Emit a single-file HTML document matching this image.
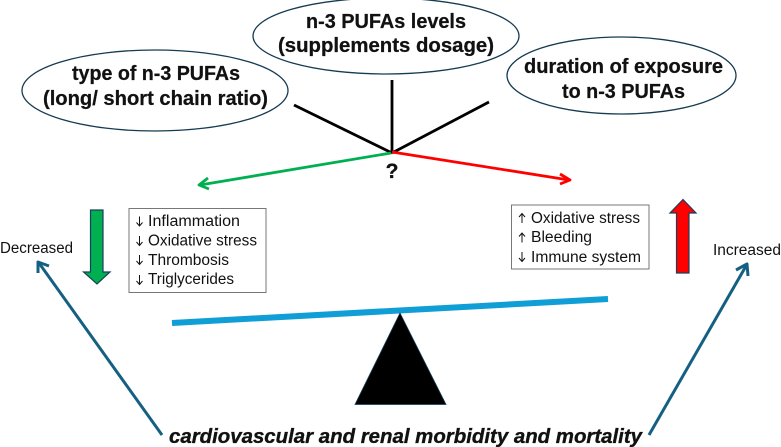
<!DOCTYPE html>
<html><head><meta charset="utf-8"><style>
html,body{margin:0;padding:0;background:#fff;width:781px;height:447px;overflow:hidden}
svg{display:block}
text{font-family:"Liberation Sans",sans-serif;fill:#111}
.b{font-weight:bold;font-size:20px;stroke:#111;stroke-width:.25px}
.t{font-size:15.500px}
</style></head><body>
<svg width="781" height="447" viewBox="0 0 781 447" xmlns="http://www.w3.org/2000/svg">
<g fill="#fff" stroke="#163b52" stroke-width="1.300">
<ellipse cx="155" cy="90.500" rx="133" ry="40.500"/>
<ellipse cx="386" cy="36" rx="133" ry="38"/>
<ellipse cx="621.500" cy="75.500" rx="114.500" ry="38.500"/>
</g>
<text class="b" x="72" y="80" textLength="168" lengthAdjust="spacingAndGlyphs">type of n-3 PUFAs</text>
<text class="b" x="43" y="105" textLength="225" lengthAdjust="spacingAndGlyphs">(long/ short chain ratio)</text>
<text class="b" x="306" y="28" textLength="160" lengthAdjust="spacingAndGlyphs">n-3 PUFAs levels</text>
<text class="b" x="278" y="52" textLength="216" lengthAdjust="spacingAndGlyphs">(supplements dosage)</text>
<text class="b" x="524" y="73" textLength="199" lengthAdjust="spacingAndGlyphs">duration of exposure</text>
<text class="b" x="562" y="98" textLength="123" lengthAdjust="spacingAndGlyphs">to n-3 PUFAs</text>

<g stroke="#000" stroke-width="2.800" fill="none">
<path d="M294 105L392 153"/><path d="M392 80V153"/><path d="M489 102L392 153"/>
</g>
<g stroke="#00b050" stroke-width="2.800" fill="none" stroke-linejoin="round"><path d="M391 153L200 185"/><path d="M208 178L199 185L209 189"/></g>
<g stroke="#ff0000" stroke-width="2.800" fill="none" stroke-linejoin="round"><path d="M392 152L569 180"/><path d="M560 174L570 180L560 184"/></g>
<text x="392" y="178" text-anchor="middle" style="font-size:21px;font-weight:bold;stroke:#111;stroke-width:.3px">?</text>

<text class="t" x="0" y="253" textLength="73" lengthAdjust="spacingAndGlyphs">Decreased</text>
<text class="t" x="713" y="255" textLength="68" lengthAdjust="spacingAndGlyphs">Increased</text>

<path d="M90.500 210H103V272H110L97 284L83.500 272H90.500Z" fill="#00b050" stroke="#17405a" stroke-width="1.200"/>
<path d="M676.500 273H689V213H696L683 199.500L670 213H676.500Z" fill="#ff0000" stroke="#17405a" stroke-width="1.200"/>

<rect x="129" y="208.500" width="137" height="84" fill="#fff" stroke="#777" stroke-width="1"/>
<g stroke="#111" stroke-width="1" fill="none">
<path d="M139.500 216.500V226M136.500 222.500L139.500 226L142.500 222.500"/>
<path d="M139.500 236V245.500M136.500 242L139.500 245.500L142.500 242"/>
<path d="M139.500 255V264.500M136.500 261L139.500 264.500L142.500 261"/>
<path d="M139.500 275V284.500M136.500 281L139.500 284.500L142.500 281"/>
</g>
<text class="t" x="148" y="226" textLength="92" lengthAdjust="spacingAndGlyphs">Inflammation</text>
<text class="t" x="148" y="245.500" textLength="109" lengthAdjust="spacingAndGlyphs">Oxidative stress</text>
<text class="t" x="148" y="265" textLength="81" lengthAdjust="spacingAndGlyphs">Thrombosis</text>
<text class="t" x="148" y="284" textLength="86" lengthAdjust="spacingAndGlyphs">Triglycerides</text>

<rect x="511.500" y="205" width="137.500" height="64" fill="#fff" stroke="#777" stroke-width="1"/>
<g stroke="#111" stroke-width="1" fill="none">
<path d="M522 223V213.500M519 217L522 213.500L525 217"/>
<path d="M522 242.500V233M519 236.500L522 233L525 236.500"/>
<path d="M522 252V261.500M519 258L522 261.500L525 258"/>
</g>
<text class="t" x="531" y="223" textLength="109" lengthAdjust="spacingAndGlyphs">Oxidative stress</text>
<text class="t" x="531" y="242" textLength="61" lengthAdjust="spacingAndGlyphs">Bleeding</text>
<text class="t" x="531" y="262" textLength="110" lengthAdjust="spacingAndGlyphs">Immune system</text>

<path d="M172 323L608 299" stroke="#0f9ed5" stroke-width="6" fill="none"/>
<path d="M400 313L446 404.500H355Z" fill="#000" stroke="#17405a" stroke-width="0.800"/>

<g stroke="#156082" stroke-width="3" fill="none" stroke-linejoin="round">
<path d="M162 435L39 263"/><path d="M38 273L38 262L49 266"/>
<path d="M649 435L746 266"/><path d="M736 270L747 264L748 276"/>
</g>
<text x="169" y="443" textLength="473" lengthAdjust="spacingAndGlyphs" style="font-size:20px;font-weight:bold;font-style:italic;stroke:#111;stroke-width:.35px">cardiovascular and renal morbidity and mortality</text>
</svg>
</body></html>
